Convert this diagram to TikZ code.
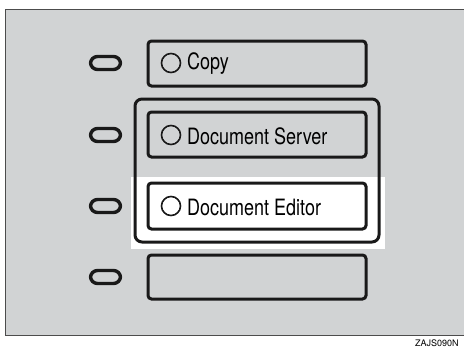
\documentclass[tikz,border=0pt]{standalone}
\usepackage{fontspec}
\setmainfont{TeX Gyre Heros}
\newfontfamily\narrowfont[FakeStretch=0.8]{TeX Gyre Heros}
\begin{document}
\begin{tikzpicture}[x=1pt,y=-1pt,
  btn/.style={draw=black!90,line width=3pt,rounded corners=3.5pt},
  pill/.style={draw=black!90,line width=3.4pt,rounded corners=7pt,minimum width=30pt,minimum height=13pt,inner sep=0pt},
  lamp/.style={draw=black!90,line width=1.6pt,circle,minimum size=19pt,inner sep=0pt},
  lbl/.style={font=\narrowfont\fontsize{22.5}{22.5}\selectfont,anchor=west,inner sep=0pt}]
\useasboundingbox (0,0) rectangle (464,348);
\clip (0,0) rectangle (464,348);
\definecolor{bg}{RGB}{209,211,212}
\fill[bg,draw=black!70,line width=1pt] (5,9) rectangle (470,335);
\fill[white] (131,177) rectangle (385,249);
\draw[btn,rounded corners=7pt] (135,99) rectangle (379,242);
\draw[btn] (148,41) rectangle (366,86);
\draw[btn] (148,112) rectangle (366,157);
\draw[btn,fill=white] (148,183) rectangle (366,229);
\draw[btn] (148,255) rectangle (366,299);
\node[pill] (p1) at (105.5,63) {};
\node[pill] (p2) at (105.5,135) {};
\node[pill] (p3) at (105.5,206) {};
\node[pill] (p4) at (105.5,277) {};
\node[lamp] (l1) at (171,63) {};
\node[lamp] (l2) at (171,135) {};
\node[lamp] (l3) at (171,206) {};
\node[lbl] (t1) at (187,64) {Copy};
\node[lbl] (t2) at (187,136) {Document Server};
\node[lbl] (t3) at (187,207) {Document Editor};
\node[font=\fontsize{9}{9}\selectfont,anchor=north west,inner sep=0pt] (code) at (415,340) {ZAJS090N};
\end{tikzpicture}
\end{document}
